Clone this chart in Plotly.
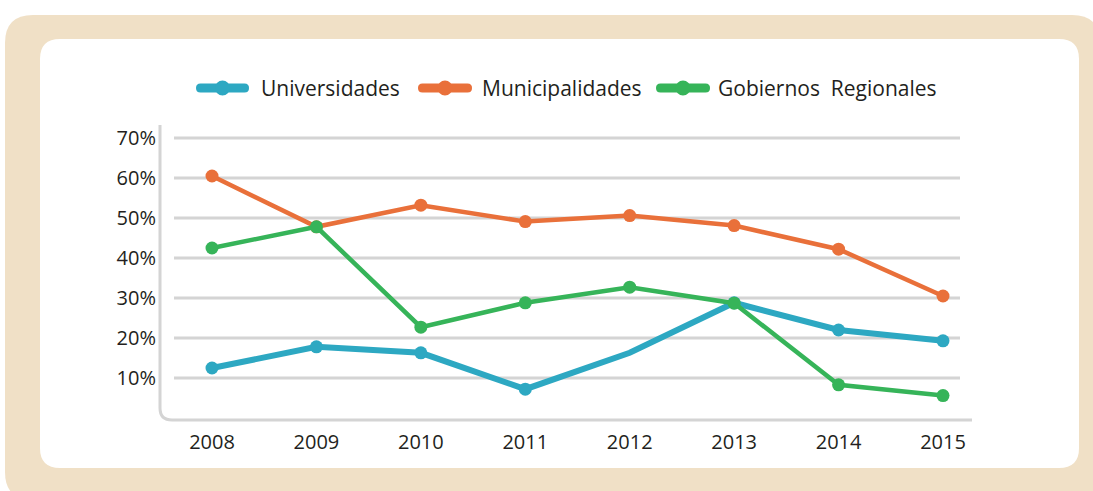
import plotly.graph_objects as go

W, H = 1093, 491

years = [2008, 2009, 2010, 2011, 2012, 2013, 2014, 2015]
universidades = [12.5, 17.8, 16.3, 7.2, 16.3, 28.8, 22.0, 19.3]
municipalidades = [60.5, 47.8, 53.2, 49.1, 50.6, 48.1, 42.2, 30.5]
gobiernos = [42.5, 47.8, 22.7, 28.8, 32.7, 28.7, 8.3, 5.6]
series_names = ["Universidades", "Municipalidades", "Gobiernos  Regionales"]
y_ticks = [10, 20, 30, 40, 50, 60, 70]
y_tick_text = ["10%", "20%", "30%", "40%", "50%", "60%", "70%"]

BLUE = "#2DA8C2"
ORANGE = "#E9703A"
GREEN = "#36B459"
BEIGE = "#F0E0C6"
GRID = "#D4D4D4"
TXT = "#231F20"
FONT = "Open Sans"


def px(x):
    return x / W


def py(y):
    return 1 - y / H


def rrect(x0, y0, x1, y1, r):
    pts = [
        f"M {px(x0 + r)} {py(y0)}",
        f"L {px(x1 - r)} {py(y0)}",
        f"Q {px(x1)} {py(y0)} {px(x1)} {py(y0 + r)}",
        f"L {px(x1)} {py(y1 - r)}",
        f"Q {px(x1)} {py(y1)} {px(x1 - r)} {py(y1)}",
        f"L {px(x0 + r)} {py(y1)}",
        f"Q {px(x0)} {py(y1)} {px(x0)} {py(y1 - r)}",
        f"L {px(x0)} {py(y0 + r)}",
        f"Q {px(x0)} {py(y0)} {px(x0 + r)} {py(y0)}",
        "Z",
    ]
    return " ".join(pts)


# plot area in pixels
PX0, PX1 = 160, 972
PY_TOP, PY_BOT = 125, 420
x_per = (943 - 212) / 7.0
xr = [2008 + (PX0 - 212) / x_per, 2008 + (PX1 - 212) / x_per]
yr = [(418 - PY_BOT) / 4.0, (418 - PY_TOP) / 4.0]

fig = go.Figure()

blue_sizes = [13, 13, 13, 13, 0, 13, 13, 13]
fig.add_trace(go.Scatter(x=years, y=universidades, name=series_names[0],
                         mode="lines+markers", line=dict(color=BLUE, width=6),
                         marker=dict(size=blue_sizes, color=BLUE, opacity=1,
                                     line=dict(width=0)),
                         cliponaxis=False, showlegend=False))
fig.add_trace(go.Scatter(x=years, y=municipalidades, name=series_names[1],
                         mode="lines+markers", line=dict(color=ORANGE, width=4.5),
                         marker=dict(size=13, color=ORANGE), cliponaxis=False,
                         showlegend=False))
fig.add_trace(go.Scatter(x=years, y=gobiernos, name=series_names[2],
                         mode="lines+markers", line=dict(color=GREEN, width=4.5),
                         marker=dict(size=13, color=GREEN), cliponaxis=False,
                         showlegend=False))

shapes = [
    dict(type="path", xref="paper", yref="paper", path=rrect(5, 15, 1100, 500, 28),
         fillcolor=BEIGE, line=dict(width=0), layer="below"),
    dict(type="path", xref="paper", yref="paper", path=rrect(40, 39, 1079, 468, 20),
         fillcolor="white", line=dict(width=0), layer="below"),
]
for t in y_ticks:
    shapes.append(dict(type="line", xref="paper", yref="y", x0=px(174), x1=px(960),
                       y0=t, y1=t, line=dict(color=GRID, width=3), layer="below"))
axis_path = (f"M {px(160)} {py(125)} L {px(160)} {py(408)} "
             f"Q {px(160)} {py(420)} {px(172)} {py(420)} L {px(972)} {py(420)}")
shapes.append(dict(type="path", xref="paper", yref="paper", path=axis_path,
                   line=dict(color=GRID, width=3), layer="below"))

# custom legend (symbol: thick rounded bar + dot, then label)
annotations = []
legend_items = [(196, 249, 259, BLUE), (418, 472, 480, ORANGE), (656, 710, 716, GREEN)]
LY = 88
for (x0, x1, tx, col), name in zip(legend_items, series_names):
    shapes.append(dict(type="path", xref="paper", yref="paper",
                       path=rrect(x0, LY - 4.5, x1, LY + 4.5, 4.5),
                       fillcolor=col, line=dict(width=0)))
    cx = (x0 + x1) / 2
    shapes.append(dict(type="circle", xref="paper", yref="paper",
                       x0=px(cx - 7.5), x1=px(cx + 7.5), y0=py(LY + 7.5), y1=py(LY - 7.5),
                       fillcolor=col, line=dict(width=0)))
    annotations.append(dict(xref="paper", yref="paper", x=px(tx), y=py(LY),
                            xanchor="left", yanchor="middle", text=name, showarrow=False,
                            font=dict(size=21, color=TXT, family=FONT)))

fig.update_layout(
    width=W, height=H,
    margin=dict(l=0, r=0, t=0, b=0),
    paper_bgcolor="white", plot_bgcolor="rgba(0,0,0,0)",
    font=dict(family=FONT, color=TXT),
    shapes=shapes,
    annotations=annotations,
    showlegend=False,
    xaxis=dict(domain=[px(PX0), px(PX1)], range=xr, tickvals=years,
               ticktext=[str(y) for y in years], showgrid=False, zeroline=False,
               showline=False, ticks="", tickfont=dict(size=20, color=TXT),
               ticklabelstandoff=8),
    yaxis=dict(domain=[py(PY_BOT), py(PY_TOP)], range=yr, tickvals=y_ticks,
               ticktext=y_tick_text, showgrid=False, zeroline=False,
               showline=False, ticks="", tickfont=dict(size=20, color=TXT),
               ticklabelstandoff=3),
)

fig.write_html("out.html", config={"displayModeBar": False},
               post_script="document.body.style.margin='0';document.body.style.overflow='hidden';")
